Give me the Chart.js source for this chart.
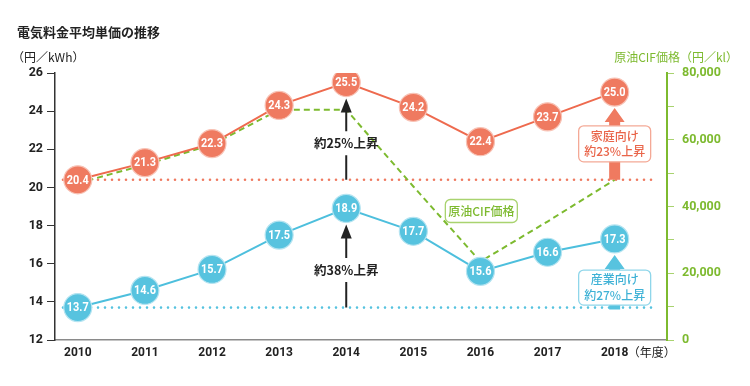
<!DOCTYPE html>
<html>
<head>
<meta charset="utf-8">
<script src="https://cdn.jsdelivr.net/npm/chart.js@4"></script>
<style>
  html, body { margin: 0; padding: 0; background: #fff; }
  #wrap { width: 750px; height: 386px; }
</style>
</head>
<body>
<div id="wrap"><canvas id="myChart" width="750" height="386"></canvas></div>
<script>
const years = [2010, 2011, 2012, 2013, 2014, 2015, 2016, 2017, 2018];
const householdPrice = [20.4, 21.3, 22.3, 24.3, 25.5, 24.2, 22.4, 23.7, 25.0];
const industryPrice = [13.7, 14.6, 15.7, 17.5, 18.9, 17.7, 15.6, 16.6, 17.3];
const crudeCifPrice = [47000, 52500, 58500, 69000, 69000, 46000, 23500, 35500, 48000];
const leftTicks = [12, 14, 16, 18, 20, 22, 24, 26];
const rightTicks = [0, 10000, 20000, 30000, 40000, 50000, 60000, 70000, 80000];

const RED = '#ef7a60';
const BLUE = '#57c3df';
const GREEN = '#7dba2f';
const JP = '"Noto Sans CJK JP", "Noto Sans", sans-serif';
const NUM = 'Roboto, "Noto Sans", sans-serif';

function dottedLine(ctx, x1, x2, y, color) {
    ctx.save();
    ctx.strokeStyle = color;
    ctx.lineWidth = 2.6;
    ctx.lineCap = 'round';
    ctx.setLineDash([0, 7]);
    ctx.beginPath();
    ctx.moveTo(x1, y);
    ctx.lineTo(x2, y);
    ctx.stroke();
    ctx.restore();
}

function thinArrow(ctx, x, bottom, tip, text) {
    ctx.save();
    ctx.strokeStyle = '#222';
    ctx.fillStyle = '#222';
    ctx.lineWidth = 2;
    const mid = (bottom + tip) / 2 + 4;
    ctx.beginPath();
    ctx.moveTo(x, bottom);
    ctx.lineTo(x, mid + 12);
    ctx.moveTo(x, mid - 12);
    ctx.lineTo(x, tip + 10);
    ctx.stroke();
    ctx.beginPath();
    ctx.moveTo(x, tip);
    ctx.lineTo(x - 5.5, tip + 14);
    ctx.lineTo(x + 5.5, tip + 14);
    ctx.closePath();
    ctx.fill();
    ctx.font = 'bold 12.5px ' + JP;
    ctx.textAlign = 'center';
    ctx.textBaseline = 'middle';
    ctx.fillText(text, x, mid);
    ctx.restore();
}

function blockArrow(ctx, x, bottom, tip, color) {
    ctx.save();
    ctx.fillStyle = color;
    ctx.beginPath();
    ctx.moveTo(x - 5.5, bottom);
    ctx.lineTo(x - 5.5, tip + 14);
    ctx.lineTo(x - 10, tip + 14);
    ctx.lineTo(x, tip);
    ctx.lineTo(x + 10, tip + 14);
    ctx.lineTo(x + 5.5, tip + 14);
    ctx.lineTo(x + 5.5, bottom);
    ctx.closePath();
    ctx.fill();
    ctx.restore();
}

function labelBox(ctx, cx, cy, w, h, lines, textColor, borderColor) {
    ctx.save();
    ctx.fillStyle = '#fff';
    ctx.strokeStyle = borderColor;
    ctx.lineWidth = 1.3;
    ctx.beginPath();
    ctx.roundRect(cx - w / 2, cy - h / 2, w, h, 5);
    ctx.fill();
    ctx.stroke();
    ctx.fillStyle = textColor;
    ctx.font = '500 12px ' + JP;
    ctx.textAlign = 'center';
    ctx.textBaseline = 'middle';
    const lh = 15.5;
    lines.forEach((t, i) => {
        ctx.fillText(t, cx, cy + (i - (lines.length - 1) / 2) * lh);
    });
    ctx.restore();
}

const decorations = {
    id: 'decorations',
    beforeDatasetsDraw(chart) {
        const { ctx, chartArea, scales } = chart;
        const yr = scales.y.getPixelForValue(householdPrice[0]);
        const yb = scales.y.getPixelForValue(industryPrice[0]);
        dottedLine(ctx, chartArea.left + 8, chartArea.right - 12, yr, RED);
        dottedLine(ctx, chartArea.left + 8, chartArea.right - 12, yb, BLUE);
    },
    afterDatasetsDraw(chart) {
        const { ctx, scales } = chart;
        const x = scales.x, y = scales.y;

        // circle value labels (condensed look)
        [[0, householdPrice], [1, industryPrice]].forEach(([di, values]) => {
            const meta = chart.getDatasetMeta(di);
            ctx.save();
            ctx.fillStyle = '#fff';
            ctx.font = 'bold 13px ' + NUM;
            ctx.textAlign = 'center';
            ctx.textBaseline = 'middle';
            meta.data.forEach((pt, i) => {
                ctx.save();
                ctx.translate(pt.x, pt.y + 0.5);
                ctx.scale(0.84, 1);
                ctx.fillText(values[i].toFixed(1), 0, 0);
                ctx.restore();
            });
            ctx.restore();
        });

        // 2014 arrows
        const x14 = x.getPixelForValue(2014);
        thinArrow(ctx, x14, y.getPixelForValue(householdPrice[0]), y.getPixelForValue(householdPrice[4]) + 16, '約25%上昇');
        thinArrow(ctx, x14, y.getPixelForValue(industryPrice[0]), y.getPixelForValue(industryPrice[4]) + 16, '約38%上昇');

        // 2018 arrows and boxes
        const x18 = x.getPixelForValue(2018);
        const redBottom = y.getPixelForValue(householdPrice[0]);
        blockArrow(ctx, x18, redBottom, y.getPixelForValue(householdPrice[8]) + 16, RED);
        labelBox(ctx, x18, redBottom - 36, 72, 36, ['家庭向け', '約23%上昇'], '#e9654a', '#f4a996');

        const blueBottom = y.getPixelForValue(industryPrice[0]) + 2;
        blockArrow(ctx, x18, blueBottom, y.getPixelForValue(industryPrice[8]) + 16, BLUE);
        labelBox(ctx, x18, blueBottom - 22, 72, 35, ['産業向け', '約27%上昇'], '#3fb2d6', '#8fd6ea');

        // crude oil label
        labelBox(ctx, x.getPixelForValue(2015) + 68, 211, 72, 23, ['原油CIF価格'], GREEN, '#a9d36f');
    },
    afterDraw(chart) {
        const { ctx, scales } = chart;
        ctx.save();
        ctx.textBaseline = 'middle';
        ctx.fillStyle = '#222';
        ctx.font = 'bold 13px ' + JP;
        ctx.textAlign = 'left';
        ctx.fillText('電気料金平均単価の推移', 17, 32);
        ctx.font = '12px ' + JP;
        ctx.fillText('（円／kWh）', 12, 57);
        ctx.fillStyle = GREEN;
        ctx.textAlign = 'right';
        ctx.fillText('原油CIF価格（円／kl）', 738, 57);
        ctx.fillStyle = '#222';
        ctx.textAlign = 'left';
        ctx.font = '12px ' + JP;
        ctx.fillText('（年度）', scales.x.getPixelForValue(2018) + 13, 352);
        ctx.restore();
    }
};

const ctx = document.getElementById('myChart').getContext('2d');
new Chart(ctx, {
    type: 'line',
    data: {
        datasets: [{
            label: '家庭向け',
            data: years.map((yr, i) => ({ x: yr, y: householdPrice[i] })),
            borderColor: '#ee6a4e',
            borderWidth: 2,
            pointRadius: 14,
            pointBackgroundColor: RED,
            pointBorderColor: '#f8c3b6',
            pointBorderWidth: 1.2,
            yAxisID: 'y'
        }, {
            label: '産業向け',
            data: years.map((yr, i) => ({ x: yr, y: industryPrice[i] })),
            borderColor: '#4dbfdd',
            borderWidth: 2,
            pointRadius: 14,
            pointBackgroundColor: BLUE,
            pointBorderColor: '#b5e4f1',
            pointBorderWidth: 1.2,
            yAxisID: 'y'
        }, {
            label: '原油CIF価格',
            data: years.map((yr, i) => ({ x: yr, y: crudeCifPrice[i] })),
            borderColor: GREEN,
            borderWidth: 2,
            borderDash: [6, 4],
            pointRadius: 0,
            yAxisID: 'y2',
            order: 5
        }]
    },
    options: {
        responsive: false,
        animation: false,
        layout: { padding: { top: 73, left: 0, right: 0, bottom: 0 } },
        plugins: {
            legend: { display: false },
            tooltip: { enabled: false }
        },
        scales: {
            x: {
                type: 'linear',
                min: 2009.66,
                max: 2018.78,
                afterBuildTicks: s => { s.ticks = years.map(v => ({ value: v })); },
                afterFit: s => { s.height = 46; },
                grid: { display: true, drawOnChartArea: false, drawTicks: false },
                border: { color: '#8a8a8a', width: 1.5 },
                ticks: {
                    padding: 6,
                    color: '#222',
                    font: { family: NUM, size: 12, weight: 'bold' },
                    callback: v => String(v)
                }
            },
            y: {
                position: 'left',
                min: 12,
                max: 26,
                afterBuildTicks: s => { s.ticks = leftTicks.map(v => ({ value: v })); },
                afterFit: s => { s.width = 55; },
                grid: { drawOnChartArea: false, drawTicks: true, tickLength: 8, color: '#333' },
                border: { color: '#333', width: 1.5 },
                ticks: {
                    padding: 4,
                    color: '#222',
                    font: { family: NUM, size: 12.5, weight: 'bold' },
                    callback: v => String(v)
                }
            },
            y2: {
                position: 'right',
                min: 0,
                max: 80000,
                afterBuildTicks: s => { s.ticks = rightTicks.map(v => ({ value: v })); },
                afterFit: s => { s.width = 83; },
                grid: { drawOnChartArea: false, drawTicks: true, tickLength: 7, color: '#a9d36f' },
                border: { color: GREEN, width: 2 },
                ticks: {
                    padding: 8,
                    color: GREEN,
                    font: { family: NUM, size: 12.5, weight: 'bold' },
                    callback: v => (v % 20000 === 0 ? v.toLocaleString('en-US') : '')
                }
            }
        }
    },
    plugins: [decorations]
});
</script>
</body>
</html>
